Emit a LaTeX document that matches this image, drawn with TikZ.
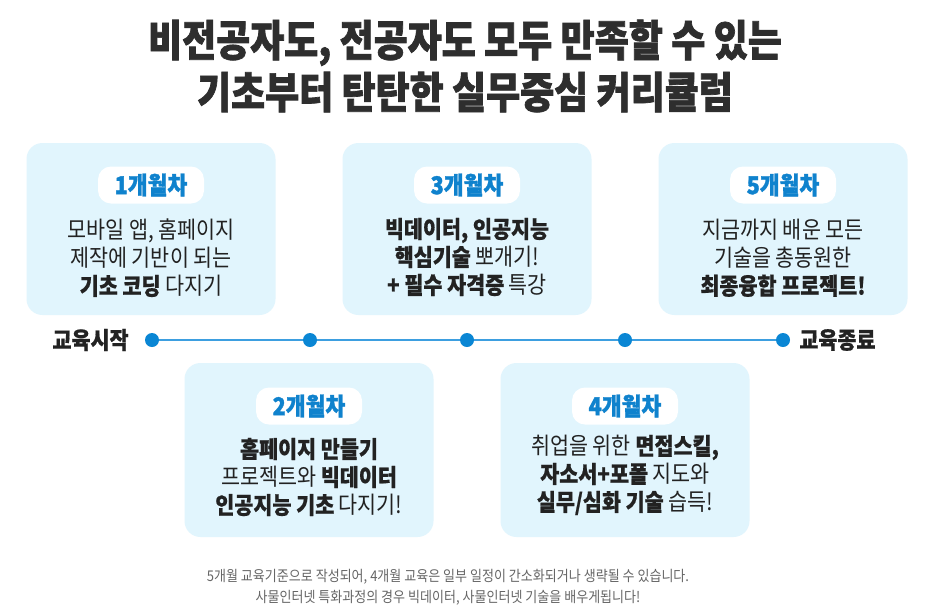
\documentclass[tikz,border=0pt]{standalone}
\usepackage{fontspec}
\setmainfont{Noto Sans CJK KR}[FakeStretch=0.88, BoldFeatures={FakeBold=0.7}]
\newfontfamily\titlefont{Noto Sans CJK KR}[FakeStretch=0.86, BoldFeatures={FakeBold=1.6}]
\newfontfamily\pillfont{Noto Sans CJK KR}[FakeStretch=0.88, BoldFeatures={FakeBold=1.4}]
\definecolor{boxbg}{HTML}{E1F5FD}
\definecolor{pillblue}{HTML}{0F82CD}
\definecolor{dotblue}{HTML}{0A86D4}
\definecolor{lineblue}{HTML}{3D9FE0}
\definecolor{bodytext}{HTML}{222222}
\definecolor{titletext}{HTML}{2E2E2E}
\definecolor{notetext}{HTML}{666666}
\begin{document}
\begin{tikzpicture}[x=1pt,y=-1pt,
  card/.style={fill=boxbg, rounded corners=16pt, minimum width=249pt, minimum height=172pt, inner sep=0pt},
  pill/.style={fill=white, rounded corners=13pt, minimum width=106pt, minimum height=37pt, inner sep=0pt, text=pillblue, font=\pillfont\fontsize{24.5}{24.5}\selectfont\bfseries},
  body/.style={align=center, text=bodytext, font=\fontsize{23.5}{28}\selectfont, inner sep=0pt},
  dot/.style={circle, fill=dotblue, minimum size=14pt, inner sep=0pt},
  endlabel/.style={text=bodytext, font=\fontsize{23.5}{23.5}\selectfont\bfseries, inner sep=0pt},
  timeline/.style={draw=lineblue, line width=1.5pt}
]
\path[use as bounding box, fill=white] (0,0) rectangle (929,614);

% title
\node[align=center, text=titletext, font=\titlefont\bfseries\fontsize{43}{52}\selectfont, inner sep=0pt] (title) at (465,66)
  {비전공자도, 전공자도 모두 만족할 수 있는\\기초부터 탄탄한 실무중심 커리큘럼};

% timeline
\node[dot] (d1) at (152,340) {};
\node[dot] (d2) at (310,340) {};
\node[dot] (d3) at (467,340) {};
\node[dot] (d4) at (625,340) {};
\node[dot] (d5) at (783,340) {};
\draw[timeline] (d1) -- (d2) -- (d3) -- (d4) -- (d5);
\node[endlabel, anchor=east] (start) at ([xshift=-16pt]d1.west) {교육시작};
\node[endlabel, anchor=west] (end) at ([xshift=9pt]d5.east) {교육종료};

% cards top
\node[card] (c1) at (151,229) {};
\node[card] (c3) at (467,229) {};
\node[card] (c5) at (783,229) {};
% cards bottom
\node[card, minimum height=174pt] (c2) at (309,450) {};
\node[card, minimum height=174pt] (c4) at (625,450) {};

\node[pill] (p1) at (151,185) {1개월차};
\node[pill] (p3) at (467,185) {3개월차};
\node[pill] (p5) at (783,185) {5개월차};
\node[pill] (p2) at (309,406) {2개월차};
\node[pill] (p4) at (625,406) {4개월차};

\node[body] (t1) at (151,258) {모바일 앱, 홈페이지\\제작에 기반이 되는\\\textbf{기초 코딩} 다지기};
\node[body] (t3) at (467,257) {\textbf{빅데이터, 인공지능}\\\textbf{핵심기술} 뽀개기!\\\textbf{+ 필수 자격증} 특강};
\node[body] (t5) at (783,258) {지금까지 배운 모든\\기술을 총동원한\\\textbf{최종융합 프로젝트!}};
\node[body] (t2) at (309,477) {\textbf{홈페이지 만들기}\\프로젝트와 \textbf{빅데이터}\\\textbf{인공지능 기초} 다지기!};
\node[body] (t4) at (625,475) {취업을 위한 \textbf{면접스킬,}\\\textbf{자소서+포폴} 지도와\\\textbf{실무/심화 기술} 습득!};

% footnote
\node[align=center, text=notetext, font=\fontsize{14.8}{21}\selectfont, inner sep=0pt] (note) at (448,587)
  {5개월 교육기준으로 작성되어, 4개월 교육은 일부 일정이 간소화되거나 생략될 수 있습니다.\\사물인터넷 특화과정의 경우 빅데이터, 사물인터넷 기술을 배우게됩니다!};
\end{tikzpicture}
\end{document}
